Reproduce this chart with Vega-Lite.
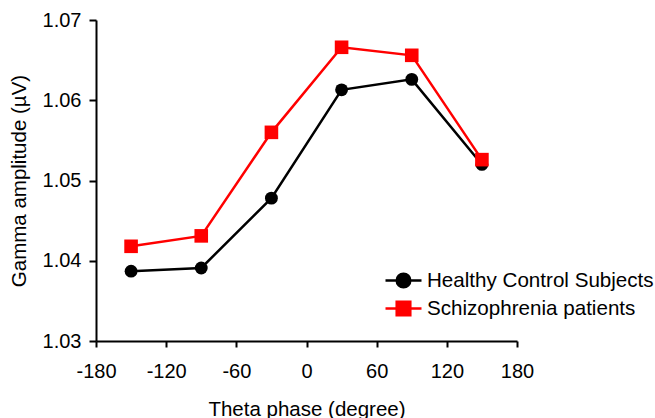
{
  "$schema": "https://vega.github.io/schema/vega-lite/v6.json",
  "autosize": {"type": "none"},
  "width": 421,
  "height": 321,
  "padding": {"left": 96, "top": 20, "right": 138, "bottom": 77},
  "background": "white",
  "config": {
    "view": {"stroke": null},
    "font": "Liberation Sans",
    "axis": {
      "grid": false,
      "domainColor": "black",
      "domainWidth": 2,
      "tickColor": "black",
      "tickWidth": 2,
      "tickSize": 7,
      "labelColor": "black",
      "titleColor": "black",
      "labelFont": "Liberation Sans",
      "titleFont": "Liberation Sans",
      "labelFontSize": 20,
      "titleFontSize": 20.5,
      "titleFontWeight": "normal",
      "labelLimit": 0,
      "labelFlush": false
    },
    "legend": {
      "labelFont": "Liberation Sans",
      "labelFontSize": 20.6,
      "labelColor": "black",
      "labelLimit": 0
    }
  },
  "data": {
    "values": [
      {"phase": -150, "amplitude": 1.0387, "group": "Healthy Control Subjects"},
      {"phase": -90, "amplitude": 1.0391, "group": "Healthy Control Subjects"},
      {"phase": -30, "amplitude": 1.0478, "group": "Healthy Control Subjects"},
      {"phase": 30, "amplitude": 1.0613, "group": "Healthy Control Subjects"},
      {"phase": 90, "amplitude": 1.0626, "group": "Healthy Control Subjects"},
      {"phase": 150, "amplitude": 1.0520, "group": "Healthy Control Subjects"},
      {"phase": -150, "amplitude": 1.0418, "group": "Schizophrenia patients"},
      {"phase": -90, "amplitude": 1.0431, "group": "Schizophrenia patients"},
      {"phase": -30, "amplitude": 1.0560, "group": "Schizophrenia patients"},
      {"phase": 30, "amplitude": 1.0666, "group": "Schizophrenia patients"},
      {"phase": 90, "amplitude": 1.0656, "group": "Schizophrenia patients"},
      {"phase": 150, "amplitude": 1.0526, "group": "Schizophrenia patients"}
    ]
  },
  "encoding": {
    "x": {
      "field": "phase",
      "type": "quantitative",
      "scale": {"domain": [-180, 180], "nice": false, "zero": false},
      "axis": {"values": [-180, -120, -60, 0, 60, 120, 180], "labelExpr": "'' + datum.value", "title": "Theta phase (degree)", "labelPadding": 14, "titlePadding": 18, "tickSize": 6}
    },
    "y": {
      "field": "amplitude",
      "type": "quantitative",
      "scale": {"domain": [1.03, 1.07], "nice": false, "zero": false},
      "axis": {"values": [1.03, 1.04, 1.05, 1.06, 1.07], "format": ".2f", "title": "Gamma amplitude (µV)", "labelPadding": 8, "titlePadding": 13}
    },
    "color": {
      "field": "group",
      "type": "nominal",
      "scale": {"domain": ["Healthy Control Subjects", "Schizophrenia patients"], "range": ["#000000", "#ff0000"]},
      "legend": {
        "title": null,
        "orient": "none",
        "legendX": 296,
        "legendY": 249,
        "padding": 0,
        "symbolSize": 400,
        "labelOffset": 12,
        "rowPadding": 3,
        "encode": {
          "symbols": {
            "update": {
              "shape": {"signal": "datum.value === 'Healthy Control Subjects' ? 'M-1.8,0H1.8M0.68,0A0.68,0.68 0 1,1 -0.68,0A0.68,0.68 0 1,1 0.68,0Z' : 'M-1.8,0H1.8M-0.68,-0.68H0.68V0.68H-0.68Z'"},
              "stroke": {"signal": "scale('color', datum.value)"},
              "fill": {"signal": "scale('color', datum.value)"},
              "strokeWidth": {"value": 2.5},
              "opacity": {"value": 1}
            }
          }
        }
      }
    }
  },
  "layer": [
    {"mark": {"type": "line", "strokeWidth": 2.5}},
    {
      "transform": [{"filter": "datum.group === 'Healthy Control Subjects'"}],
      "mark": {"type": "point", "filled": true, "opacity": 1, "size": 165, "shape": "circle"}
    },
    {
      "transform": [{"filter": "datum.group === 'Schizophrenia patients'"}],
      "mark": {"type": "point", "filled": true, "opacity": 1, "size": 185, "shape": "square"}
    }
  ]
}
